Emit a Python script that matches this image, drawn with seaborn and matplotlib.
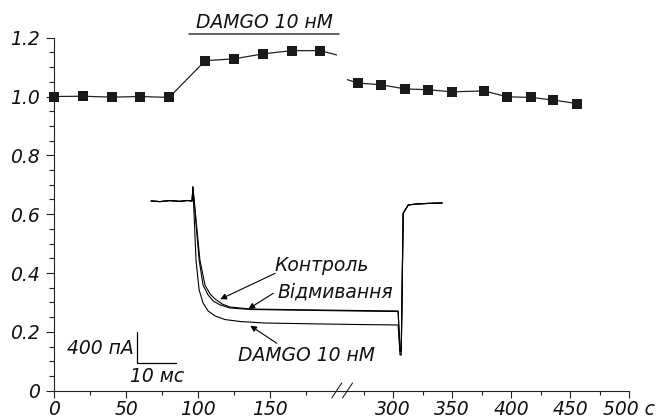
import numpy as np
import seaborn as sns
import matplotlib.pyplot as plt
from matplotlib.lines import Line2D
from matplotlib.ticker import MultipleLocator

# relative amplitude vs time (s)
time_s = [0, 20, 40, 60, 80, 105, 125, 145, 165, 185,
          270, 290, 310, 330, 350, 377, 397, 417, 436, 456]
rel_amp = [1.0, 1.001, 0.998, 1.0, 0.997, 1.122, 1.128, 1.145, 1.156, 1.156,
           1.046, 1.040, 1.026, 1.023, 1.016, 1.019, 0.999, 0.997, 0.988, 0.976]

left_ticks = [0, 50, 100, 150]
left_labels = ['0', '50', '100', '150']
right_ticks = [300, 350, 400, 450, 500]
right_labels = ['300', '350', '400', '450', '500 с']
y_ticks = [0, 0.2, 0.4, 0.6, 0.8, 1.0, 1.2]
y_labels = ['0', '0.2', '0.4', '0.6', '0.8', '1.0', '1.2']

drug_label = 'DAMGO 10 нМ'
drug_start, drug_end = 94, 198

# current traces (ms, pA)
pre_t = [6.7, 9.0, 11.5, 14.0, 16.0, 17.2, 17.4]
pre_i = [0, -8, 5, -5, 6, 0, 177]

ctrl_t = [19.2, 20.5, 21.8, 23.1, 24.9, 26.9, 32.1, 40, 50, 60, 70]
ctrl_i = [-745, -1061, -1175, -1238, -1301, -1339, -1364, -1370, -1377, -1383, -1389]
wash_t = [19.0, 20.0, 21.3, 22.6, 24.4, 26.9, 32.1, 40, 50, 60, 70]
wash_i = [-745, -1061, -1187, -1263, -1313, -1351, -1370, -1376, -1383, -1390, -1396]
damgo_t = [18.2, 19.0, 20.0, 21.3, 23.1, 25.6, 29.5, 35.9, 50, 60, 70]
damgo_i = [-745, -1124, -1288, -1389, -1452, -1497, -1522, -1541, -1553, -1560, -1566]

tail_t = [70.5, 70.8, 71.3, 72.6, 74.8, 78.0, 81.3]
ctrl_tail = [-1880, -1880, -155, -50, -38, -30, -25]
wash_tail = [-1900, -1900, -155, -50, -38, -30, -25]
damgo_tail = [-1945, -1945, -155, -50, -38, -30, -25]

bar_ms, bar_pa = 10, 400

sns.set_style('ticks')
plt.rcParams['font.family'] = ['DejaVu Sans']
plt.rcParams['font.style'] = 'oblique'
plt.rcParams['axes.linewidth'] = 0.8
plt.rcParams['text.color'] = '#111111'
plt.rcParams['xtick.labelcolor'] = '#111111'
plt.rcParams['ytick.labelcolor'] = '#111111'

W, H = 665, 420
FS = 13.5
fig = plt.figure(figsize=(W / 100, H / 100), dpi=100)


def px_box(x0, y0, x1, y1):
    return [x0 / W, 1 - y1 / H, (x1 - x0) / W, (y1 - y0) / H]


ax_l = fig.add_axes(px_box(54, 37.7, 337, 390.7))
ax_r = fig.add_axes(px_box(347, 37.7, 629, 390.7))

for ax in (ax_l, ax_r):
    sns.lineplot(x=time_s, y=rel_amp, ax=ax, color='#222222', lw=0.9,
                 estimator=None, sort=False)
    ax.set_ylim(0, 1.2)
    ax.spines['top'].set_visible(False)
    ax.spines['right'].set_visible(False)
    ax.spines['bottom'].set_color('#222222')
    ax.spines['left'].set_color('#222222')
    ax.xaxis.set_minor_locator(MultipleLocator(25))
    ax.tick_params(axis='x', which='major', length=5, width=0.8, pad=2,
                   labelsize=FS, color='#222222')
    ax.tick_params(axis='x', which='minor', length=3, width=0.8, color='#222222')

n_left = sum(t < 200 for t in time_s)
sns.scatterplot(x=time_s[:n_left], y=rel_amp[:n_left], ax=ax_l, marker='s',
                s=44, color='#1a1a1a', edgecolor='#1a1a1a', linewidth=0,
                clip_on=False, zorder=5)
sns.scatterplot(x=time_s[n_left:], y=rel_amp[n_left:], ax=ax_r, marker='s',
                s=44, color='#1a1a1a', edgecolor='#1a1a1a', linewidth=0,
                zorder=5)

ax_l.set_xlim(0, 196.5)
ax_l.set_xticks(left_ticks, left_labels)
ax_l.set_yticks(y_ticks, y_labels)
ax_l.yaxis.set_minor_locator(MultipleLocator(0.05))
ax_l.tick_params(axis='y', which='major', length=6, width=0.8, pad=4,
                 labelsize=FS, color='#222222')
ax_l.tick_params(axis='y', which='minor', length=3.5, width=0.8, color='#222222')

ax_r.set_xlim(261, 500)
ax_r.set_xticks(right_ticks, right_labels)
ax_r.spines['left'].set_visible(False)
ax_r.set_yticks([])
ax_r.patch.set_alpha(0)

# drug application bar
ax_l.plot([drug_start, drug_end], [1.212, 1.212], color='#555555', lw=1.3,
          clip_on=False)
ax_l.text((drug_start + drug_end) / 2, 1.25, drug_label, ha='center',
          va='center', fontsize=FS)

# axis break
y_ax = 1 - 390.7 / H
fig.add_artist(Line2D([337 / W, 347 / W], [y_ax, y_ax], color='#222222', lw=0.8))
for cx in (336.7, 347.5):
    fig.add_artist(Line2D([(cx - 5) / W, (cx + 5) / W],
                          [1 - 398 / H, 1 - 383 / H], color='#222222', lw=0.8))

# inset with current traces
ax_in = fig.add_axes(px_box(125, 175, 450, 395))
ax_in.set_axis_off()
for tt, ii, tail in ((ctrl_t, ctrl_i, ctrl_tail),
                     (wash_t, wash_i, wash_tail),
                     (damgo_t, damgo_i, damgo_tail)):
    sns.lineplot(x=pre_t + tt + tail_t, y=pre_i + ii + tail, ax=ax_in,
                 color='black', lw=0.8, estimator=None, sort=False)
ax_in.set_xlim(0, 83.3)
ax_in.set_ylim(-2450, 328)

# scale bar
ax_in.plot([3, 3, 3 + bar_ms], [-1651, -1651 - bar_pa, -1651 - bar_pa],
           color='black', lw=0.9)
ax_in.text(2.2, -1857, f'{bar_pa} пА', ha='right', va='center', fontsize=FS)
ax_in.text(8.3, -2215, f'{bar_ms} мс', ha='center', va='center', fontsize=FS)

arrow = dict(arrowstyle='-|>', lw=0.8, color='black', mutation_scale=9,
             shrinkA=0, shrinkB=0)
ax_in.text(38.2, -821, 'Контроль', ha='left', va='center', fontsize=FS)
ax_in.annotate('', xy=(24.4, -1241), xytext=(38.5, -913), arrowprops=arrow)
ax_in.text(39.2, -1149, 'Відмивання', ha='left', va='center', fontsize=FS)
ax_in.annotate('', xy=(31.6, -1364), xytext=(38.0, -1166), arrowprops=arrow)
ax_in.text(29.0, -1945, 'DAMGO 10 нМ', ha='left', va='center', fontsize=FS)
ax_in.annotate('', xy=(32.1, -1575), xytext=(38.9, -1797), arrowprops=arrow)

fig.savefig('out.png', dpi=100)
